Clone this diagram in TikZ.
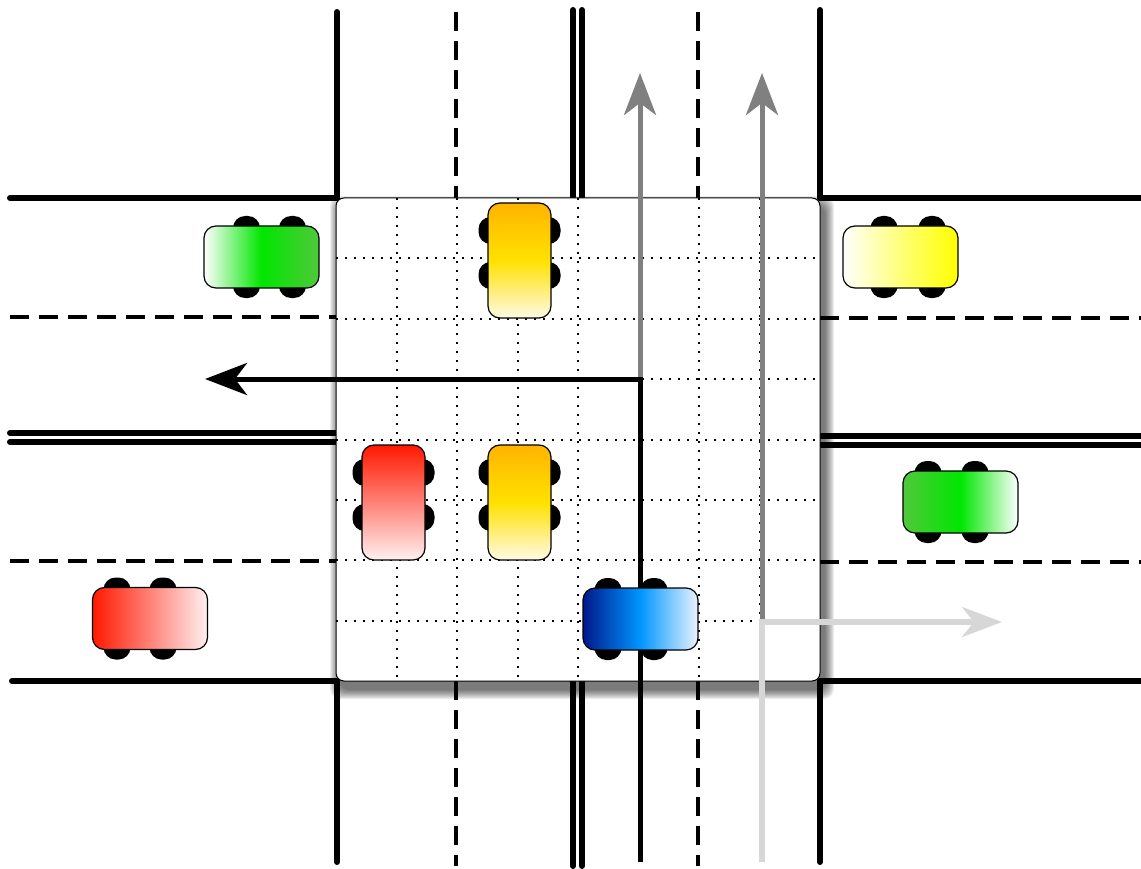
\documentclass[tikz,border=0pt]{standalone}
\usetikzlibrary{arrows.meta}

\definecolor{grn}{RGB}{0,230,0}
\definecolor{grndark}{RGB}{80,200,60}
\definecolor{ylw}{RGB}{255,255,0}
\definecolor{ylwmid}{RGB}{255,255,120}
\definecolor{orng}{RGB}{255,180,0}
\definecolor{ylwmid2}{RGB}{255,225,0}
\definecolor{cream}{RGB}{255,250,230}
\definecolor{rd}{RGB}{255,25,0}
\definecolor{rdmid}{RGB}{255,130,120}
\definecolor{rdpale}{RGB}{255,240,240}
\definecolor{bldark}{RGB}{0,25,140}
\definecolor{blmid}{RGB}{0,150,255}
\definecolor{blpale}{RGB}{235,243,255}
\definecolor{arrgray}{RGB}{128,128,128}
\definecolor{arrlight}{RGB}{215,215,215}

% wheels of a car driving left/right: centre x, centre y, two wheel x offsets
\newcommand{\wheelsH}[4]{%
  \fill[wheel] ({#1+#3-13.5},{#2-41}) rectangle ({#1+#3+13.5},{#2+41});
  \fill[wheel] ({#1+#4-13.5},{#2-41}) rectangle ({#1+#4+13.5},{#2+41});}
% wheels of a car driving up/down: centre x, centre y, two wheel y offsets
\newcommand{\wheelsV}[4]{%
  \fill[wheel] ({#1-41},{#2+#3-13.5}) rectangle ({#1+41},{#2+#3+13.5});
  \fill[wheel] ({#1-41},{#2+#4-13.5}) rectangle ({#1+41},{#2+#4+13.5});}

\begin{document}
\begin{tikzpicture}[x=1pt,y=-1pt,
  road/.style={line width=6pt, line cap=round},
  lane/.style={line width=3.5pt, dash pattern=on 19pt off 10pt},
  gridline/.style={line width=2pt, dash pattern=on 2pt off 7pt},
  wheel/.style={black, rounded corners=12pt},
  carH/.style={draw=black, line width=1.2pt, rounded corners=12pt,
    minimum width=115pt, minimum height=62pt, inner sep=0pt},
  carV/.style={draw=black, line width=1.2pt, rounded corners=12pt,
    minimum width=63pt, minimum height=115pt, inner sep=0pt},
  route/.style={line width=5pt},
  bigtip/.style={-{Stealth[length=42pt,width=32pt,inset=12pt]}}]

\useasboundingbox (0,0) rectangle (1141,869);

% soft shadow of the crossing
\foreach \i in {1,...,10}
  \fill[black, opacity=0.07, rounded corners=10pt]
    ({336+4-\i},{198+8-\i}) rectangle ({820+4+\i},{681+8+\i});

% road borders
\draw[road] (10,198) -- (336,198);
\draw[road] (820,198) -- (1141,198);
\draw[road] (12,681) -- (336,681);
\draw[road] (820,681) -- (1141,681);
\draw[road] (10,433) -- (336,433);
\draw[road] (10,442) -- (336,442);
\draw[road] (820,436) -- (1141,436);
\draw[road] (820,445) -- (1141,445);
\draw[road] (337,12) -- (337,198);
\draw[road] (337,681) -- (337,862);
\draw[road] (820,10) -- (820,198);
\draw[road] (820,681) -- (820,862);
\draw[road] (573,10) -- (573,198);
\draw[road] (582,10) -- (582,198);
\draw[road] (573,681) -- (573,866);
\draw[road] (582,681) -- (582,866);

% lane markings
\draw[lane] (10,317) -- (336,317);
\draw[lane] (820,318) -- (1141,318);
\draw[lane] (10,561) -- (336,561);
\draw[lane] (820,562) -- (1141,562);
\draw[lane] (456,12) -- (456,198);
\draw[lane] (456,681) -- (456,866);
\draw[lane] (698,12) -- (698,198);
\draw[lane] (698,681) -- (698,866);

% the crossing with its grid
\node[draw=black, line width=1pt, fill=white, rounded corners=8pt,
  minimum width=484pt, minimum height=483pt, inner sep=0pt] (cross) at (578,439.5) {};
\foreach \k in {1,...,7} {
  \draw[gridline] ({336+60.5*\k},198) -- ({336+60.5*\k},681);
  \draw[gridline] (336,{198+60.375*\k}) -- (820,{198+60.375*\k});
}

% routes
\coordinate (b0) at (640,862);
\coordinate (b1) at (640,379);
\coordinate (b2) at (205,379);
\coordinate (g1) at (640,73);
\coordinate (h0) at (762,622);
\coordinate (h1) at (762,73);
\coordinate (l0) at (762,862);
\coordinate (l1) at (1002,622);
\draw[route, arrgray, bigtip] (b1) -- (g1);
\draw[route, arrgray, bigtip] (h0) -- (h1);
\draw[route, black, bigtip] (b0) -- (b1) -- (b2);
\draw[line width=5.5pt, arrlight, -{Stealth[length=40pt,width=30pt,inset=12pt]}]
  (l0) -- (h0) -- (l1);

% cars
\wheelsH{261.5}{257}{-15}{31}
\node[carH, left color=white, right color=grndark, middle color=grn] (car1) at (261.5,257) {};
\wheelsH{150}{618.5}{-33}{13}
\node[carH, left color=rd, right color=rdpale, middle color=rdmid] (car2) at (150,618.5) {};
\wheelsH{900.5}{257}{-16.5}{31.5}
\node[carH, left color=white, right color=ylw, middle color=ylwmid] (car3) at (900.5,257) {};
\wheelsH{960.5}{502}{-32.5}{14.5}
\node[carH, left color=grndark, right color=white, middle color=grn] (car4) at (960.5,502) {};
\wheelsH{640.5}{619}{-32.5}{13.5}
\node[carH, left color=bldark, right color=blpale, middle color=blmid] (car5) at (640.5,619) {};
\wheelsV{519.5}{260.5}{-30}{15}
\node[carV, top color=orng, bottom color=cream, middle color=ylwmid2] (car6) at (519.5,260.5) {};
\wheelsV{393.5}{502.5}{-30}{15}
\node[carV, top color=rd, bottom color=rdpale, middle color=rdmid] (car7) at (393.5,502.5) {};
\wheelsV{519.5}{502.5}{-30}{15}
\node[carV, top color=orng, bottom color=cream, middle color=ylwmid2] (car8) at (519.5,502.5) {};

\end{tikzpicture}
\end{document}
